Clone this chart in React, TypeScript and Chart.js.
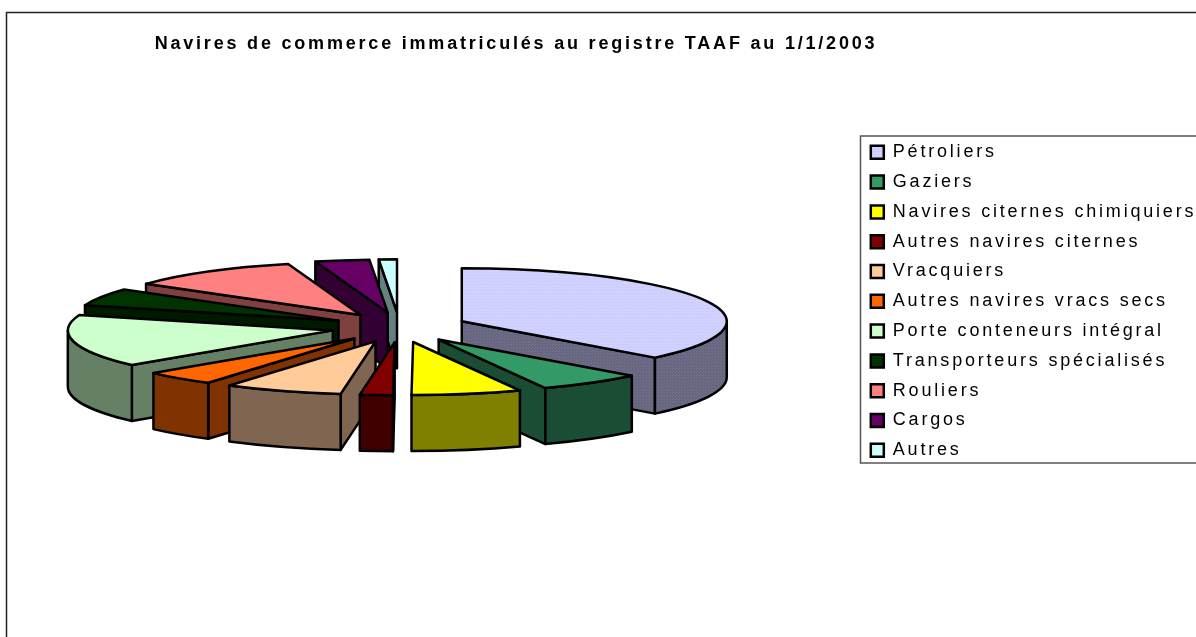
import React, { useEffect, useRef } from "react";
import { Chart, registerables } from "chart.js";

Chart.register(...registerables);

const titleText = "Navires de commerce immatriculés au registre TAAF au 1/1/2003";
const categories = [
  "Pétroliers",
  "Gaziers",
  "Navires citernes chimiquiers",
  "Autres navires citernes",
  "Vracquiers",
  "Autres navires vracs secs",
  "Porte conteneurs intégral",
  "Transporteurs spécialisés",
  "Rouliers",
  "Cargos",
  "Autres",
];
const shares = [37, 6.4, 6.7, 2.0, 7.2, 4.4, 16, 5.3, 10.6, 3.3, 1.1];
const topColors = ["#CCCCFF", "#339966", "#FFFF00", "#800000", "#FFCC99", "#FF6600", "#CCFFCC", "#003300", "#FF8080", "#660066", "#CCFFFF"];
const sideColors = ["#666680", "#1A4D33", "#808000", "#400000", "#806650", "#803300", "#668066", "#001A00", "#804040", "#330033", "#668080"];

const TILT = 0.2;
const DEPTH = 56;
const EXPLODE_X = 68;
const EXPLODE_Y = 15;
const RADIUS = 265;
const LETTER_SPACING = "2.8px";

function dotted(base: string, dot: string, scaleY = 1) {
  const c = document.createElement("canvas");
  c.width = 3;
  c.height = 3;
  const g = c.getContext("2d")!;
  g.fillStyle = base;
  g.fillRect(0, 0, 3, 3);
  g.fillStyle = dot;
  g.fillRect(0, 0, 1, 1);
  g.fillRect(1, 2, 1, 1);
  const p = g.createPattern(c, "repeat")!;
  if (scaleY !== 1) p.setTransform(new DOMMatrix().scale(1, scaleY));
  return p;
}

const pie3d = {
  id: "pie3d",
  beforeLayout(chart: any) {
    chart.ctx.letterSpacing = LETTER_SPACING;
  },
  afterLayout(chart: any) {
    const t = chart.titleBlock;
    const h = t.bottom - t.top;
    const cx = (t.left + t.right) / 2;
    const shift = 516 - cx;
    t.left += shift;
    t.right += shift;
    t.top = 33;
    t.bottom = 33 + h;
    const l = chart.legend;
    l.left = 859;
    l.right = 859 + l.width;
    l.top = 131.5;
    l.bottom = 131.5 + 345;
  },
  beforeDraw(chart: any) {
    const { ctx } = chart;
    ctx.letterSpacing = LETTER_SPACING;
    ctx.save();
    ctx.strokeStyle = "#222222";
    ctx.lineWidth = 1.5;
    ctx.beginPath();
    ctx.moveTo(6.5, 640);
    ctx.lineTo(6.5, 12.5);
    ctx.lineTo(1200, 12.5);
    ctx.stroke();
    ctx.strokeStyle = "#555555";
    ctx.strokeRect(860.5, 136, 345, 327);
    ctx.restore();
  },
  beforeDatasetsDraw(chart: any) {
    const { ctx } = chart;
    const arcs = chart.getDatasetMeta(0).data;
    const sidePattern = dotted("#666680", "#73738C");
    const items = arcs.map((arc: any, i: number) => {
      const { x, y, startAngle, endAngle, outerRadius } = arc.getProps(["x", "y", "startAngle", "endAngle", "outerRadius"]);
      const mid = (startAngle + endAngle) / 2;
      return { arc, i, x, y, s: startAngle, e: endAngle, r: outerRadius, ox: x + EXPLODE_X * Math.cos(mid), oy: y + EXPLODE_Y * Math.sin(mid) };
    });
    items.sort((a: any, b: any) => a.oy - b.oy);
    ctx.save();
    ctx.lineWidth = 2.5;
    ctx.lineJoin = "round";
    ctx.strokeStyle = "#000000";
    for (const it of items) {
      const { ox, oy, s, e, r } = it;
      const ry = r * TILT;
      ctx.fillStyle = it.i === 0 ? sidePattern : sideColors[it.i];
      const radial = (a: number) => {
        const px = ox + r * Math.cos(a);
        const py = oy + ry * Math.sin(a);
        ctx.beginPath();
        ctx.moveTo(ox, oy);
        ctx.lineTo(px, py);
        ctx.lineTo(px, py + DEPTH);
        ctx.lineTo(ox, oy + DEPTH);
        ctx.closePath();
        ctx.fill();
        ctx.stroke();
      };
      if (Math.cos(s) < -1e-6) radial(s);
      if (Math.cos(e) > 1e-6) radial(e);
      const a = Math.max(s, 0);
      const b = Math.min(e, Math.PI);
      if (a < b) {
        ctx.beginPath();
        ctx.ellipse(ox, oy, r, ry, 0, a, b, false);
        ctx.ellipse(ox, oy + DEPTH, r, ry, 0, b, a, true);
        ctx.closePath();
        ctx.fill();
        ctx.stroke();
      }
      ctx.save();
      ctx.translate(ox, oy);
      ctx.scale(1, TILT);
      ctx.translate(-it.x, -it.y);
      it.arc.draw(ctx);
      ctx.restore();
      ctx.beginPath();
      ctx.moveTo(ox, oy);
      ctx.ellipse(ox, oy, r, ry, 0, s, e, false);
      ctx.closePath();
      ctx.stroke();
    }
    ctx.restore();
    return false;
  },
};

export default function App() {
  const ref = useRef<HTMLCanvasElement>(null);
  useEffect(() => {
    const fills: any[] = topColors.map((c) => c);
    fills[0] = dotted("#CCCCFF", "#DDDDFF", 1 / TILT);
    const legendFills: any[] = topColors.map((c) => c);
    legendFills[0] = dotted("#CCCCFF", "#DDDDFF");
    const chart = new Chart(ref.current!, {
      type: "pie",
      data: {
        labels: categories,
        datasets: [{ data: shares, backgroundColor: fills, borderWidth: 0 }],
      },
      options: {
        responsive: false,
        animation: false,
        radius: RADIUS,
        layout: { padding: { left: 0, right: 50, top: 109, bottom: 113 } },
        plugins: {
          tooltip: { enabled: false },
          title: {
            display: true,
            text: titleText,
            color: "#000000",
            padding: 0,
            font: { family: "'Liberation Sans'", size: 18, weight: "bold" },
          },
          legend: {
            position: "right",
            align: "start",
            labels: {
              boxWidth: 13,
              boxHeight: 13,
              padding: 11.8,
              color: "#000000",
              font: { family: "'Liberation Sans'", size: 18 },
              generateLabels: () =>
                categories.map((text, i) => ({
                  text,
                  index: i,
                  fillStyle: legendFills[i],
                  strokeStyle: "#000000",
                  lineWidth: 2.5,
                  fontColor: "#000000",
                  hidden: false,
                })),
            },
          },
        },
      } as any,
      plugins: [pie3d as any],
    });
    return () => chart.destroy();
  }, []);
  return (
    <div style={{ position: "fixed", left: 0, top: 0, width: 1196, height: 637, overflow: "hidden", background: "#fff" }}>
      <canvas ref={ref} width={1196} height={637} style={{ display: "block" }} />
    </div>
  );
}
